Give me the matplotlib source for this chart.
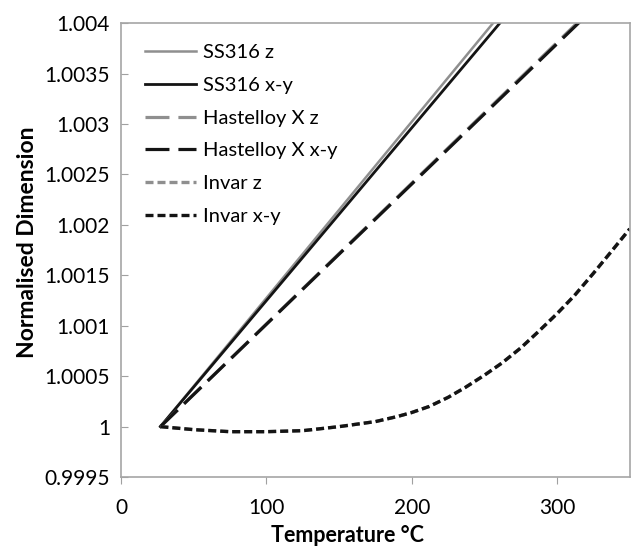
import matplotlib
matplotlib.use("Agg")
import matplotlib.pyplot as plt

plt.rcParams['font.family'] = ['Lato', 'DejaVu Sans']

# Data
ss316_T = [27, 350]
ss316_z = [1.0, 1.0 + 1.747e-5 * (350 - 27)]
ss316_xy = [1.0, 1.0 + 1.712e-5 * (350 - 27)]
hast_T = [27, 350]
hast_z = [1.0, 1.0 + 1.395e-5 * (350 - 27)]
hast_xy = [1.0, 1.0 + 1.39e-5 * (350 - 27)]
invar_T = [27, 50, 75, 100, 125, 150, 175, 190, 200, 212, 225, 237, 250,
           262, 275, 287, 300, 312, 325, 337, 350]
invar_z = [1.0, 0.99997, 0.99995, 0.99995, 0.99996, 1.00000, 1.00005, 1.0001,
           1.00014, 1.0002, 1.00029, 1.00039, 1.00051, 1.00063, 1.00078, 1.00094,
           1.00112, 1.0013, 1.00152, 1.00173, 1.00196]
invar_xy = [1.0, 0.99997, 0.99995, 0.99995, 0.99996, 1.00000, 1.00005, 1.0001,
            1.00014, 1.0002, 1.00029, 1.00039, 1.00051, 1.00063, 1.00078, 1.00094,
            1.00112, 1.0013, 1.00152, 1.00173, 1.00196]
xticks = [0, 100, 200, 300]
yticks = [0.9995, 1.0, 1.0005, 1.001, 1.0015, 1.002, 1.0025, 1.003, 1.0035, 1.004]
ytick_labels = ['0.9995', '1', '1.0005', '1.001', '1.0015', '1.002', '1.0025', '1.003', '1.0035', '1.004']

fig = plt.figure(figsize=(6.31, 5.49), dpi=100)
ax = fig.add_axes([0.192, 0.131, 0.806, 0.827])

gray = '#8f8f8f'
black = '#141414'
ax.plot(ss316_T, ss316_z, color=gray, lw=1.8, label='SS316 z')
ax.plot(ss316_T, ss316_xy, color=black, lw=2.0, label='SS316 x-y')
ax.plot(hast_T, hast_z, color=gray, lw=2.3, dashes=(7.5, 2.8), label='Hastelloy X z')
ax.plot(hast_T, hast_xy, color=black, lw=2.3, dashes=(7.5, 2.8), label='Hastelloy X x-y')
ax.plot(invar_T, invar_z, color=gray, lw=2.4, dashes=(2.4, 1.2), label='Invar z')
ax.plot(invar_T, invar_xy, color=black, lw=2.4, dashes=(2.4, 1.2), label='Invar x-y')

ax.set_xlim(0, 350)
ax.set_ylim(0.9995, 1.004)
ax.set_xticks(xticks)
ax.set_xticklabels([str(t) for t in xticks], fontsize=15)
ax.set_yticks(yticks)
ax.set_yticklabels(ytick_labels, fontsize=15)
ax.tick_params(axis='y', direction='in', length=5, color='#a0a0a0', pad=8)
ax.tick_params(axis='x', direction='out', length=5, color='#a0a0a0', pad=10)
for s in ax.spines.values():
    s.set_color('#a6a6a6')
    s.set_linewidth(1.2)

ax.set_xlabel('Temperature °C', fontsize=15.5, fontweight='bold')
ax.set_ylabel('Normalised Dimension', fontsize=16.5, fontweight='bold')
ax.xaxis.set_label_coords(0.445, -0.105)
ax.yaxis.set_label_coords(-0.163, 0.518)

leg = ax.legend(loc='upper left', frameon=False, fontsize=14.5, handlelength=2.5,
                handletextpad=0.35, labelspacing=0.78, borderaxespad=0.3,
                bbox_to_anchor=(0.02, 0.985))

fig.savefig('out.png', dpi=100)
